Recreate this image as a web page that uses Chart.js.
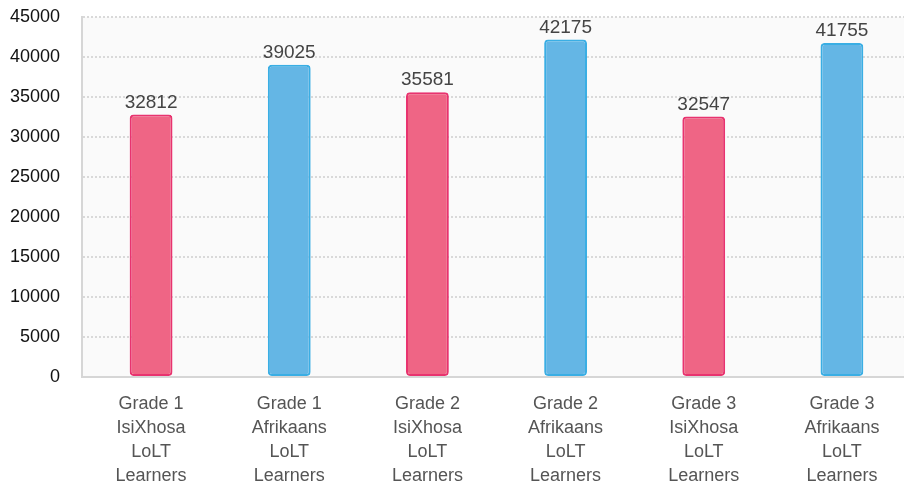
<!DOCTYPE html>
<html>
<head>
<meta charset="utf-8">
<script src="https://cdn.jsdelivr.net/npm/chart.js@4/dist/chart.umd.min.js"></script>
<style>
  html, body { margin: 0; padding: 0; background: #fff; overflow: hidden; }
  #wrap { width: 911px; height: 489px; }
</style>
</head>
<body>
<div id="wrap"><canvas id="bar_chart" width="911" height="489"></canvas></div>
<script>
const categories = [
  ['Grade 1', 'IsiXhosa', 'LoLT', 'Learners'],
  ['Grade 1', 'Afrikaans', 'LoLT', 'Learners'],
  ['Grade 2', 'IsiXhosa', 'LoLT', 'Learners'],
  ['Grade 2', 'Afrikaans', 'LoLT', 'Learners'],
  ['Grade 3', 'IsiXhosa', 'LoLT', 'Learners'],
  ['Grade 3', 'Afrikaans', 'LoLT', 'Learners']
]
const learners = [32812, 39025, 35581, 42175, 32547, 41755]
const fill_colors = ['#ef6585', '#64b6e5', '#ef6585', '#64b6e5', '#ef6585', '#64b6e5']
const border_colors = ['#e8336f', '#3aaee4', '#e8336f', '#3aaee4', '#e8336f', '#3aaee4']

const FONT = 'Liberation Sans, Arial, Helvetica, sans-serif'

// light grey plot background
const plotBackground = {
  id: 'plotBackground',
  beforeDraw(chart) {
    const {ctx, chartArea} = chart
    ctx.save()
    ctx.fillStyle = '#fafafa'
    ctx.fillRect(chartArea.left, chartArea.top, chartArea.right - chartArea.left, chartArea.bottom - chartArea.top)
    ctx.restore()
  }
}

// value above each bar
const valueLabels = {
  id: 'valueLabels',
  afterDatasetsDraw(chart) {
    const ctx = chart.ctx
    const meta = chart.getDatasetMeta(0)
    ctx.save()
    ctx.font = '19px ' + FONT
    ctx.fillStyle = '#444'
    ctx.textAlign = 'center'
    ctx.textBaseline = 'alphabetic'
    meta.data.forEach((bar, i) => {
      ctx.fillText(chart.data.datasets[0].data[i], bar.x, bar.y - 7)
    })
    ctx.restore()
  }
}

const ctx1 = document.getElementById('bar_chart').getContext('2d')
const chart1 = new Chart(ctx1, {
  type: 'bar',
  data: {
    labels: categories,
    datasets: [{
      data: learners,
      backgroundColor: fill_colors,
      borderColor: border_colors,
      borderWidth: 2,
      borderRadius: 4,
      borderSkipped: false,
      barPercentage: 0.31,
      categoryPercentage: 1
    }]
  },
  options: {
    responsive: false,
    animation: false,
    layout: { padding: { top: 17, right: 0, left: 0, bottom: 0 } },
    plugins: {
      legend: { display: false },
      tooltip: { enabled: false }
    },
    scales: {
      x: {
        grid: { display: false, drawTicks: false },
        border: { display: true, color: '#d6d6d6', width: 2 },
        ticks: {
          color: '#555',
          padding: 15,
          maxRotation: 0,
          autoSkip: false,
          font: { family: FONT, size: 18, lineHeight: 1.33 }
        },
        afterFit(scale) { scale.height = 112 }
      },
      y: {
        min: 0,
        max: 45000,
        grid: { color: '#d9d9d9', drawTicks: false, lineWidth: 2 },
        border: { display: true, color: '#d6d6d6', width: 2, dash: [2, 2] },
        ticks: {
          stepSize: 5000,
          color: '#111',
          padding: 22,
          font: { family: FONT, size: 18 },
          callback: value => String(value)
        },
        afterFit(scale) {
          scale.width = 82
          scale.paddingTop = 0
          scale.paddingBottom = 0
        }
      }
    }
  },
  plugins: [plotBackground, valueLabels]
})
</script>
</body>
</html>
